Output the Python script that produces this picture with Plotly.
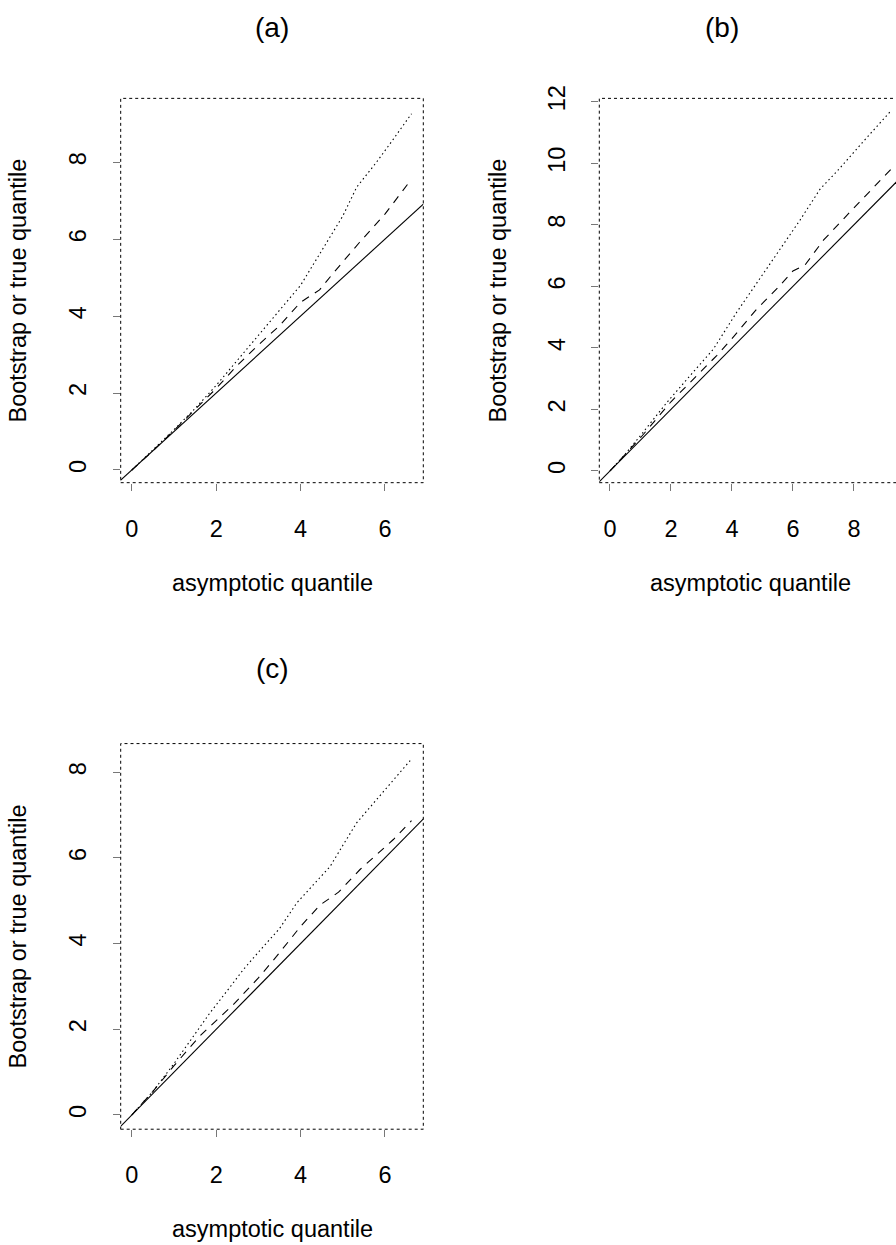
import plotly.graph_objects as go

W, H = 896, 1245
FONT = "Liberation Sans, Arial, Helvetica, sans-serif"

# ---------------- data ----------------
# Panel (a)
a_x_dotted = [0, 0.5, 1.0, 1.5, 2.0, 2.5, 3.0, 3.5, 4.0, 4.5, 5.0, 5.33, 5.8, 6.2, 6.63]
a_y_dotted = [0, 0.52, 1.05, 1.6, 2.2, 2.85, 3.5, 4.12, 4.8, 5.7, 6.6, 7.35, 8.0, 8.6, 9.26]
a_x_dashed = [0, 0.5, 1.0, 1.5, 2.0, 2.5, 3.0, 3.5, 4.0, 4.45, 4.8, 5.4, 6.0, 6.63]
a_y_dashed = [0, 0.5, 1.03, 1.57, 2.12, 2.72, 3.25, 3.75, 4.36, 4.68, 5.15, 5.92, 6.65, 7.56]

# Panel (b)
b_x_dotted = [0, 0.5, 1.0, 1.86, 2.62, 3.39, 4.15, 4.81, 5.46, 6.23, 6.89, 7.5, 8.3, 9.21]
b_y_dotted = [0, 0.55, 1.15, 2.22, 3.09, 3.96, 5.15, 6.1, 7.07, 8.15, 9.16, 9.8, 10.7, 11.7]
b_x_dashed = [0, 1.0, 2.0, 3.0, 3.5, 4.0, 4.8, 5.5, 6.0, 6.4, 7.0, 8.0, 9.21]
b_y_dashed = [0, 1.08, 2.25, 3.25, 3.75, 4.3, 5.25, 5.95, 6.5, 6.7, 7.5, 8.55, 9.8]

# Panel (c)
c_x_dotted = [0, 0.5, 1.0, 1.5, 1.85, 2.3, 2.64, 3.0, 3.5, 3.91, 4.3, 4.7, 5.0, 5.33, 5.8, 6.2, 6.63]
c_y_dotted = [0, 0.55, 1.2, 1.9, 2.38, 2.95, 3.39, 3.8, 4.35, 4.95, 5.38, 5.8, 6.29, 6.82, 7.36, 7.82, 8.31]
c_x_dashed = [0, 0.5, 1.0, 1.62, 2.0, 2.41, 3.0, 3.43, 4.0, 4.46, 4.9, 5.41, 6.2, 6.63]
c_y_dashed = [0, 0.55, 1.15, 1.85, 2.2, 2.58, 3.2, 3.7, 4.4, 4.9, 5.2, 5.73, 6.43, 6.87]

# reference line y = x (abline)
ref_line = [-1, 13]

# ticks
a_xticks = [0, 2, 4, 6]
a_yticks = [0, 2, 4, 6, 8]
b_xticks = [0, 2, 4, 6, 8]
b_yticks = [0, 2, 4, 6, 8, 10, 12]
c_xticks = [0, 2, 4, 6]
c_yticks = [0, 2, 4, 6, 8]

titles = ["(a)", "(b)", "(c)"]
xlab = "asymptotic quantile"
ylab = "Bootstrap or true quantile"

# ---------------- layout geometry (pixels) ----------------
# the photographed page maps figure rows into [TOP_OFF, H]; compensate
TOP_OFF = 14.0

def px_x(p):
    return p / W

def px_y(p):
    return 1 - (p - TOP_OFF) / (H - TOP_OFF)

panels = [
    dict(xd=[120.7, 423.3], yd=[99.3, 483.3], xr=[-0.265, 6.91], yr=[-0.33, 9.66],
         xt=a_xticks, yt=a_yticks, dx=a_x_dotted, dy=a_y_dotted, ex=a_x_dashed, ey=a_y_dashed,
         title_x=272, title_y=28, xlab_x=272, xlab_y=584, ylab_x=18, box_right=1.0),
    dict(xd=[599.3, 896.0], yd=[99.3, 483.3], xr=[-0.35, 9.38], yr=[-0.38, 12.11],
         xt=b_xticks, yt=b_yticks, dx=b_x_dotted, dy=b_y_dotted, ex=b_x_dashed, ey=b_y_dashed,
         title_x=722, title_y=28, xlab_x=750, xlab_y=584, ylab_x=498, box_right=(902 - 599.3) / (896 - 599.3)),
    dict(xd=[120.7, 423.3], yd=[744.0, 1129.3], xr=[-0.265, 6.91], yr=[-0.334, 8.67],
         xt=c_xticks, yt=c_yticks, dx=c_x_dotted, dy=c_y_dotted, ex=c_x_dashed, ey=c_y_dashed,
         title_x=272, title_y=669, xlab_x=272, xlab_y=1229, ylab_x=18, box_right=1.0),
]

fig = go.Figure()
layout = dict(
    width=W, height=H,
    margin=dict(l=0, r=0, t=0, b=0),
    paper_bgcolor="white", plot_bgcolor="white",
    showlegend=False,
    font=dict(family=FONT, color="black", size=23.5),
    shapes=[], annotations=[],
)

line_w = 1.1
for i, p in enumerate(panels):
    sfx = "" if i == 0 else str(i + 1)
    xa, ya = "x" + sfx, "y" + sfx
    # solid abline y=x
    fig.add_trace(go.Scatter(x=ref_line, y=ref_line, mode="lines", xaxis=xa, yaxis=ya,
                             line=dict(color="black", width=line_w), hoverinfo="skip"))
    # dashed
    fig.add_trace(go.Scatter(x=p["ex"], y=p["ey"], mode="lines", xaxis=xa, yaxis=ya,
                             line=dict(color="black", width=line_w, dash="8px,7px"), hoverinfo="skip"))
    # dotted
    fig.add_trace(go.Scatter(x=p["dx"], y=p["dy"], mode="lines", xaxis=xa, yaxis=ya,
                             line=dict(color="black", width=line_w, dash="1.5px,3px"), hoverinfo="skip"))

    common = dict(showgrid=False, zeroline=False, showline=False, ticks="outside",
                  ticklen=7, tickwidth=1, tickcolor="#777",
                  tickfont=dict(family=FONT, size=23.5, color="black"),
                  fixedrange=True)
    layout["xaxis" + sfx] = dict(common, domain=[px_x(p["xd"][0]), px_x(p["xd"][1])],
                                 range=p["xr"], anchor=ya, tickvals=p["xt"],
                                 ticktext=[str(v) for v in p["xt"]], ticklabelstandoff=18)
    layout["yaxis" + sfx] = dict(common, domain=[px_y(p["yd"][1]), px_y(p["yd"][0])],
                                 range=p["yr"], anchor=xa, tickvals=p["yt"],
                                 ticktext=[str(v) for v in p["yt"]], tickangle=-90,
                                 ticklabelstandoff=17)
    # dotted box
    layout["shapes"].append(dict(type="rect", xref=xa + " domain", yref=ya + " domain",
                                 x0=0, x1=p["box_right"], y0=0, y1=1,
                                 line=dict(color="black", width=1, dash="3px,3px"),
                                 fillcolor="rgba(0,0,0,0)", layer="above"))
    # titles
    layout["annotations"].append(dict(text=titles[i], x=px_x(p["title_x"]), y=px_y(p["title_y"]),
                                      xref="paper", yref="paper", xanchor="center", yanchor="middle",
                                      showarrow=False, font=dict(family=FONT, size=28, color="black")))
    layout["annotations"].append(dict(text=xlab, x=px_x(p["xlab_x"]), y=px_y(p["xlab_y"]),
                                      xref="paper", yref="paper", xanchor="center", yanchor="middle",
                                      showarrow=False, font=dict(family=FONT, size=23.5, color="black")))
    ycen = (p["yd"][0] + p["yd"][1]) / 2
    layout["annotations"].append(dict(text=ylab, x=px_x(p["ylab_x"]), y=px_y(ycen),
                                      xref="paper", yref="paper", xanchor="center", yanchor="middle",
                                      textangle=-90, showarrow=False,
                                      font=dict(family=FONT, size=23.5, color="black")))

fig.update_layout(**layout)
post = ("document.documentElement.style.margin='0';document.body.style.margin='0';"
        "document.body.style.padding='0';"
        "var gd=document.getElementById('{plot_id}');"
        "gd.style.position='fixed';gd.style.top='0px';gd.style.left='0px';")
fig.write_html("out.html", post_script=post, config={"displayModeBar": False})
